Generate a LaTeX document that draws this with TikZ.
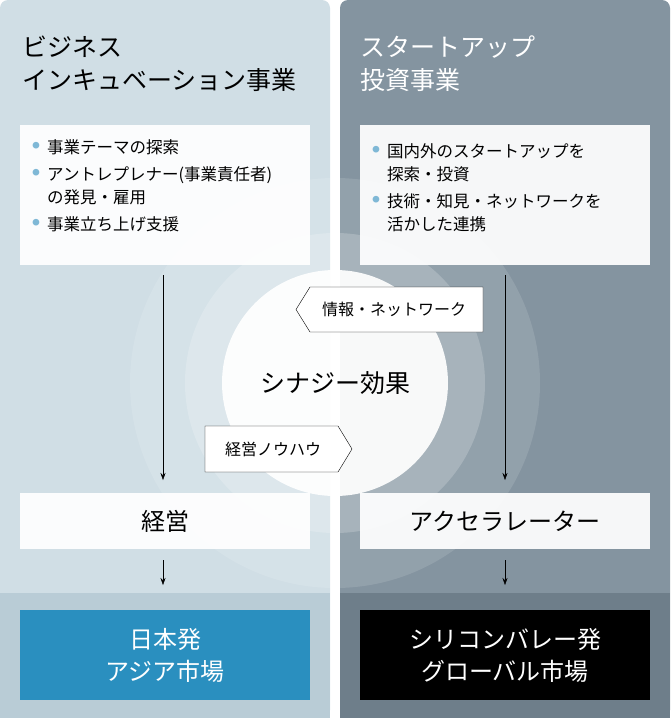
\documentclass[tikz,border=0pt]{standalone}
\usepackage{fontspec}
\setmainfont{Noto Sans CJK JP}
\usetikzlibrary{positioning,arrows.meta}
\definecolor{leftbg}{HTML}{D0DEE5}
\definecolor{rightbg}{HTML}{8494A0}
\definecolor{leftlow}{HTML}{B9CCD6}
\definecolor{rightlow}{HTML}{6E7E8A}
\definecolor{marketblue}{HTML}{2A8FBF}
\definecolor{dotblue}{HTML}{7FB8D6}
\tikzset{
  stage/.style={fill=white,fill opacity=0.93,text opacity=1,minimum width=290pt,minimum height=56pt,font=\fontsize{24}{28}\selectfont},
  market/.style={minimum width=290pt,minimum height=90pt,align=center,text=white,font=\fontsize{24}{32}\selectfont},
  flow/.style={-{Stealth[length=7pt,width=5pt]},thin},
  tag/.style={draw,fill=white,thin},
  taglabel/.style={font=\fontsize{16}{18}\selectfont}
}
\newcommand{\pt}[1]{\makebox[0pt][r]{\textcolor{dotblue}{\raisebox{0.3em}{\scalebox{0.45}{●}}}\hspace{0.45em}}#1}
\begin{document}
\begin{tikzpicture}[x=1pt,y=-1pt]
  \useasboundingbox (0,0) rectangle (670,718);
  % panels
  \fill[leftbg,rounded corners=8pt] (0,0) rectangle (330,718);
  \fill[rightbg,rounded corners=8pt] (340,0) rectangle (670,718);
  \fill[leftlow] (0,593) rectangle (330,718);
  \fill[rightlow] (340,593) rectangle (670,718);
  % circles
  \fill[white,opacity=0.12] (335,383) circle (205);
  \fill[white,opacity=0.2] (335,383) circle (150);
  \fill[white,opacity=0.92] (335,383) circle (113);
  % titles
  \node[anchor=north west,align=left,inner sep=0pt,font=\fontsize{25}{33}\selectfont] (ltitle) at (22,36) {ビジネス\\インキュベーション事業};
  \node[anchor=north west,align=left,inner sep=0pt,text=white,font=\fontsize{25}{33}\selectfont] (rtitle) at (360,36) {スタートアップ\\投資事業};
  % top cards
  \fill[white,opacity=0.93] (20,125) rectangle (310,265);
  \fill[white,opacity=0.93] (360,125) rectangle (650,265);
  \node[anchor=north west,align=left,inner sep=0pt,font=\fontsize{16.5}{23}\selectfont] (ltasks) at (47,139) {\pt{事業テーマの探索}\\[4pt]
    \pt{アントレプレナー(事業責任者)}\\の発見・雇用\\[4pt]\pt{事業立ち上げ支援}};
  \node[anchor=north west,align=left,inner sep=0pt,font=\fontsize{16.5}{23}\selectfont] (rtasks) at (387,143) {\pt{国内外のスタートアップを}\\探索・投資\\[4pt]
    \pt{技術・知見・ネットワークを}\\活かした連携};
  % stages
  \node[stage] (mgmt) at (165,521) {経営};
  \node[stage] (accel) at (505,521) {アクセラレーター};
  \node[market,fill=marketblue] (asia) at (165,655) {日本発\\アジア市場};
  \node[market,fill=black] (global) at (505,655) {シリコンバレー発\\グローバル市場};
  % arrows
  \coordinate (lstart) at (163,275);
  \coordinate (rstart) at (505,275);
  \draw[flow] (lstart) -- (163,480);
  \draw[flow] (rstart) -- (505,480);
  \draw[flow] (163,560) coordinate (la) -- (163,585);
  \draw[flow] (505,560) coordinate (ra) -- (505,585);
  % synergy
  \node[font=\fontsize{25}{28}\selectfont] (syn) at (335,383) {シナジー効果};
  \draw[tag] (483,287) -- (310,287) -- (296,309.5) -- (310,332) -- (483,332) -- cycle;
  \node[taglabel] (info) at (394,309.5) {情報・ネットワーク};
  \draw[tag] (205,426) -- (338,426) -- (352,449) -- (338,472) -- (205,472) -- cycle;
  \node[taglabel] (know) at (273,449) {経営ノウハウ};
\end{tikzpicture}
\end{document}
